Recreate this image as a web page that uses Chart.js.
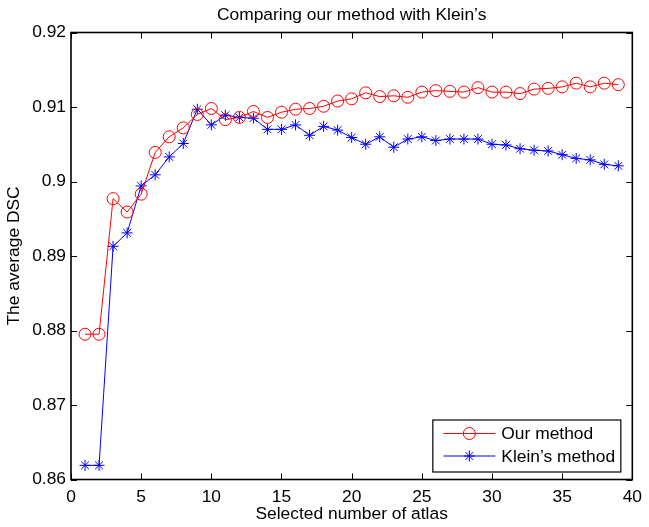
<!DOCTYPE html>
<html><head><meta charset="utf-8">
<script src="https://cdn.jsdelivr.net/npm/chart.js@4.4.1/dist/chart.umd.min.js"></script>
<style>html,body{margin:0;padding:0;background:#fff}#wrap{width:649px;height:527px;position:relative}</style>
</head><body><div id="wrap"><canvas id="c"></canvas></div>
<script>
const titleText = 'Comparing our method with Klein’s';
const xAxisTitle = 'Selected number of atlas';
const yAxisTitle = 'The average DSC';
const seriesNames = ['Our method', 'Klein’s method'];
const atlasCounts = [1,2,3,4,5,6,7,8,9,10,11,12,13,14,15,16,17,18,19,20,21,22,23,24,25,26,27,28,29,30,31,32,33,34,35,36,37,38,39];
const ourMethod = [0.8795,0.8795,0.8977,0.8959,0.8983,0.9039,0.9060,0.9072,0.9090,0.9098,0.9083,0.9086,0.9094,0.9086,0.9093,0.9097,0.9098,0.9101,0.9108,0.9111,0.9119,0.9114,0.9115,0.9113,0.9120,0.9122,0.9121,0.9120,0.9126,0.9120,0.9120,0.9118,0.9124,0.9125,0.9127,0.9132,0.9127,0.9132,0.9130];
const kleinMethod = [0.8619,0.8619,0.8913,0.8931,0.8994,0.9009,0.9033,0.9051,0.9097,0.9076,0.9089,0.9086,0.9085,0.9070,0.9070,0.9076,0.9062,0.9074,0.9069,0.9059,0.9050,0.9060,0.9046,0.9057,0.9060,0.9055,0.9057,0.9057,0.9057,0.9050,0.9049,0.9044,0.9042,0.9041,0.9036,0.9031,0.9029,0.9023,0.9021];
const xTickValues = [0,5,10,15,20,25,30,35,40];
const xTickLabels = ['0','5','10','15','20','25','30','35','40'];
const yTickValues = [0.86,0.87,0.88,0.89,0.90,0.91,0.92];
const yTickLabels = ['0.86','0.87','0.88','0.89','0.9','0.91','0.92'];

const FONT = '"Liberation Sans", Arial, Helvetica, sans-serif';
const FS = 17.4;

const matlabPlugin = {
  id: 'matlab',
  afterDraw(chart) {
    const ctx = chart.ctx;
    const a = chart.chartArea;
    const xs = chart.scales.x, ys = chart.scales.y;
    ctx.save();
    ctx.strokeStyle = '#000';
    ctx.lineWidth = 1;
    const tl = 6;
    ctx.beginPath();
    xTickValues.forEach(v => {
      const px = Math.round(xs.getPixelForValue(v)) + 0.5;
      ctx.moveTo(px, a.bottom); ctx.lineTo(px, a.bottom - tl);
      ctx.moveTo(px, a.top); ctx.lineTo(px, a.top + tl);
    });
    yTickValues.forEach(v => {
      const py = Math.round(ys.getPixelForValue(v)) + 0.5;
      ctx.moveTo(a.left, py); ctx.lineTo(a.left + tl, py);
      ctx.moveTo(a.right, py); ctx.lineTo(a.right - tl, py);
    });
    ctx.stroke();
    ctx.lineWidth = 1.6;
    ctx.strokeRect(a.left, a.top, a.right - a.left, a.bottom - a.top);
    ctx.fillStyle = '#000';
    ctx.font = FS + 'px ' + FONT;
    ctx.textAlign = 'center';
    ctx.textBaseline = 'alphabetic';
    ctx.fillText(titleText, (a.left + a.right) / 2, 19.5);
    const lx = a.right - 200, ly = a.bottom - 60, lw = 188, lh = 52;
    ctx.fillStyle = '#fff';
    ctx.fillRect(lx, ly, lw, lh);
    ctx.lineWidth = 1.2;
    ctx.strokeStyle = '#000';
    ctx.strokeRect(lx + 0.5, ly + 0.5, lw, lh);
    chart.data.datasets.forEach((ds, i) => {
      const cy = ly + 14 + i * 22.5;
      ctx.strokeStyle = ds.borderColor;
      ctx.lineWidth = 1;
      ctx.beginPath();
      ctx.moveTo(lx + 11, cy); ctx.lineTo(lx + 63, cy);
      ctx.stroke();
      ctx.strokeStyle = ds.pointBorderColor;
      ctx.fillStyle = 'rgba(0,0,0,0)';
      Chart.helpers.drawPoint(ctx, {pointStyle: ds.pointStyle, rotation: 0, borderWidth: 1, radius: ds.pointRadius}, lx + 37, cy);
      ctx.fillStyle = '#000';
      ctx.font = FS + 'px ' + FONT;
      ctx.textAlign = 'left';
      ctx.textBaseline = 'middle';
      ctx.fillText(seriesNames[i], lx + 69, cy + 1);
    });
    ctx.restore();
  }
};

new Chart(document.getElementById('c'), {
  type: 'line',
  data: {
    datasets: [
      {
        label: seriesNames[0],
        data: atlasCounts.map((x, i) => ({x, y: ourMethod[i]})),
        borderColor: '#ff0000',
        borderWidth: 1,
        pointStyle: 'circle',
        pointRadius: 6,
        pointBorderColor: '#ff0000',
        pointBackgroundColor: 'rgba(0,0,0,0)',
        pointBorderWidth: 1,
        fill: false,
        tension: 0
      },
      {
        label: seriesNames[1],
        data: atlasCounts.map((x, i) => ({x, y: kleinMethod[i]})),
        borderColor: '#0000ff',
        borderWidth: 1,
        pointStyle: 'star',
        pointRadius: 5.5,
        pointBorderColor: '#0000ff',
        pointBackgroundColor: 'rgba(0,0,0,0)',
        pointBorderWidth: 1,
        fill: false,
        tension: 0
      }
    ]
  },
  options: {
    animation: false,
    responsive: true,
    maintainAspectRatio: false,
    layout: { padding: { top: 32.5, right: 11, left: 0, bottom: 0 } },
    plugins: { legend: { display: false }, title: { display: false }, tooltip: { enabled: false } },
    scales: {
      x: {
        type: 'linear',
        min: 0, max: 40,
        grid: { display: false, drawTicks: false },
        border: { display: false },
        afterBuildTicks: s => { s.ticks = xTickValues.map(v => ({value: v})); },
        afterFit: s => { s.height = 47.5; },
        ticks: {
          autoSkip: false, maxRotation: 0, padding: 7,
          color: '#000', font: { family: FONT, size: FS },
          callback: (v, i) => xTickLabels[i]
        },
        title: { display: true, text: xAxisTitle, color: '#000', font: { family: FONT, size: FS }, padding: { top: 0, bottom: 2 } }
      },
      y: {
        type: 'linear',
        min: 0.86, max: 0.92,
        grid: { display: false, drawTicks: false },
        border: { display: false },
        afterBuildTicks: s => { s.ticks = yTickValues.map(v => ({value: v})); },
        afterFit: s => { s.width = 71; },
        ticks: {
          autoSkip: false, padding: 5,
          color: '#000', font: { family: FONT, size: FS },
          callback: (v, i) => yTickLabels[i]
        },
        title: { display: true, text: yAxisTitle, color: '#000', font: { family: FONT, size: FS }, padding: { top: 4, bottom: 0 } }
      }
    }
  },
  plugins: [matlabPlugin]
});
</script>
</body></html>
